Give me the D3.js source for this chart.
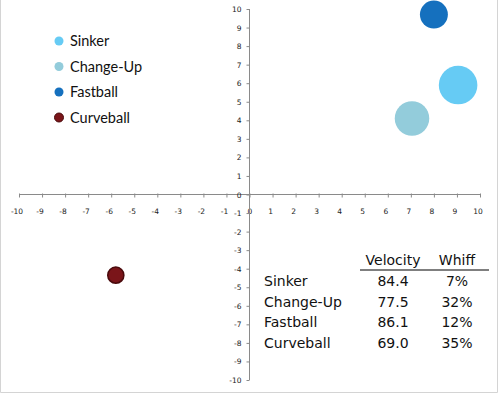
<!DOCTYPE html>
<html>
<head>
<meta charset="utf-8">
<script src="https://cdn.jsdelivr.net/npm/d3@7"></script>
<style>
  body { margin: 0; background: #fff; }
  svg { display: block; }
  .tick-label { font-family: "DejaVu Sans", sans-serif; font-size: 7.5px; fill: #222; }
  .legend-label { font-family: Lato, "Open Sans", sans-serif; font-size: 14.5px; fill: #111; }
  .table-text { font-family: "DejaVu Sans", sans-serif; font-size: 14px; fill: #111; }
</style>
</head>
<body>
<svg id="chart" width="498" height="394"></svg>
<script>
// Pitch data: horizontal / vertical movement, bubble size (usage)
const pitches = ["Sinker", "Change-Up", "Fastball", "Curveball"];
const moveX = [9.05, 7.05, 8.0, -5.8];
const moveY = [5.9, 4.1, 9.7, -4.35];
const usage = [40, 32, 21, 7];
const velocity = ["84.4", "77.5", "86.1", "69.0"];
const whiff = ["7%", "32%", "12%", "35%"];
const tickValues = d3.range(-10, 11);

const COLORS = ["#66cbf4", "#93ccdb", "#1570be", "#7a1519"];
const STROKES = ["#66cbf4", "#93ccdb", "#1570be", "#4a0a0c"];

const svg = d3.select("#chart");

// outer frame (left, right, bottom edges)
svg.append("path")
    .attr("d", "M0.5,0 V392.5 H497.5 V0")
    .attr("fill", "none")
    .attr("stroke", "#d4d4d4");

const x = d3.scaleLinear().domain([-10, 10]).range([19, 480]);
const y = d3.scaleLinear().domain([-10, 10]).range([380, 9]);
const r = d3.scaleSqrt().domain([0, 40]).range([0, 19.3]);

const axisColor = "#8a8a8a";

// X axis through y = 0
const xAxis = svg.append("g").attr("transform", `translate(0,${y(0)})`);
xAxis.append("line")
    .attr("x1", x(-10)).attr("x2", x(10))
    .attr("stroke", axisColor);
xAxis.selectAll("line.tk")
    .data(tickValues)
    .enter().append("line")
    .attr("class", "tk")
    .attr("x1", d => x(d) + 0.5).attr("x2", d => x(d) + 0.5)
    .attr("y1", -1).attr("y2", 3)
    .attr("stroke", axisColor);
xAxis.selectAll("text")
    .data(tickValues)
    .enter().append("text")
    .attr("class", "tick-label")
    .attr("x", d => x(d) + (d === 0 ? 0.5 : -2))
    .attr("y", 19)
    .attr("text-anchor", "middle")
    .text(d => d);

// Y axis through x = 0
const yAxis = svg.append("g").attr("transform", `translate(${x(0)},0)`);
yAxis.append("line")
    .attr("y1", y(10)).attr("y2", y(-10))
    .attr("stroke", axisColor);
yAxis.selectAll("line.tk")
    .data(tickValues)
    .enter().append("line")
    .attr("class", "tk")
    .attr("y1", d => y(d) + 0.5).attr("y2", d => y(d) + 0.5)
    .attr("x1", -3).attr("x2", 0)
    .attr("stroke", axisColor);
yAxis.selectAll("text")
    .data(tickValues)
    .enter().append("text")
    .attr("class", "tick-label")
    .attr("x", -8)
    .attr("y", d => y(d) + 3)
    .attr("text-anchor", "end")
    .text(d => d);

// Bubbles
svg.append("g").selectAll("circle")
    .data(pitches)
    .enter().append("circle")
    .attr("cx", (d, i) => x(moveX[i]))
    .attr("cy", (d, i) => y(moveY[i]))
    .attr("r", (d, i) => r(usage[i]))
    .attr("fill", (d, i) => COLORS[i])
    .attr("stroke", (d, i) => STROKES[i])
    .attr("stroke-width", (d, i) => i === 3 ? 1.5 : 0);

// Legend
const legend = svg.append("g").attr("transform", "translate(59,41)");
pitches.forEach((p, i) => {
    const g = legend.append("g").attr("transform", `translate(0,${i * 25.5})`);
    g.append("circle")
        .attr("r", 4.5)
        .attr("fill", COLORS[i])
        .attr("stroke", STROKES[i])
        .attr("stroke-width", i === 3 ? 1 : 0);
    g.append("text")
        .attr("class", "legend-label")
        .attr("x", 11)
        .attr("y", 5)
        .text(p);
});

// Stats table
const table = svg.append("g");
const colVel = 393, colWhiff = 457, rowStart = 286, rowH = 20.7;
table.append("text").attr("class", "table-text")
    .attr("x", colVel).attr("y", 265).attr("text-anchor", "middle").text("Velocity");
table.append("text").attr("class", "table-text")
    .attr("x", colWhiff).attr("y", 265).attr("text-anchor", "middle").text("Whiff");
table.append("line")
    .attr("x1", 360).attr("x2", 489)
    .attr("y1", 270).attr("y2", 270)
    .attr("stroke", "#555").attr("stroke-width", 1.5);
pitches.forEach((p, i) => {
    const yy = rowStart + i * rowH;
    table.append("text").attr("class", "table-text")
        .attr("x", 264).attr("y", yy).text(p);
    table.append("text").attr("class", "table-text")
        .attr("x", colVel).attr("y", yy).attr("text-anchor", "middle").text(velocity[i]);
    table.append("text").attr("class", "table-text")
        .attr("x", colWhiff).attr("y", yy).attr("text-anchor", "middle").text(whiff[i]);
});
</script>
</body>
</html>
